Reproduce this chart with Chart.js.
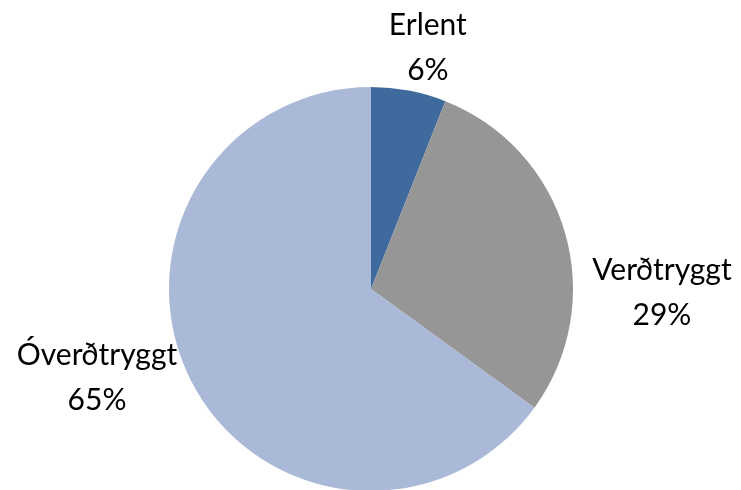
<!DOCTYPE html>
<html lang="is">
<head>
    <meta charset="UTF-8">
    <title>Skipting lána</title>
    <script src="https://cdn.jsdelivr.net/npm/chart.js"></script>
    <style>
        html, body {
            margin: 0;
            padding: 0;
            background: #FFFFFF;
            overflow: hidden;
        }
        #wrap {
            position: relative;
            width: 741px;
            height: 495px;
        }
    </style>
</head>
<body>
    <div id="wrap"><canvas id="pieChart"></canvas></div>

    <script>
        const categories = ["Erlent", "Verðtryggt", "Óverðtryggt"];
        const shares = [6, 29, 65];
        const colors = ["#3F6A9D", "#969696", "#AAB9D7"];

        // label block offset from the arc's outer edge at its mid angle
        const labelOffsets = [[19, -43], [97, 60], [-94, -3]];

        const outsideLabels = {
            id: "outsideLabels",
            afterDatasetsDraw(chart) {
                const ctx = chart.ctx;
                const meta = chart.getDatasetMeta(0);
                ctx.save();
                ctx.font = "30px Lato, 'Open Sans', sans-serif";
                ctx.fillStyle = "#000000";
                ctx.textAlign = "center";
                ctx.textBaseline = "middle";
                meta.data.forEach((arc, i) => {
                    const mid = (arc.startAngle + arc.endAngle) / 2;
                    const ex = arc.x + Math.cos(mid) * arc.outerRadius;
                    const ey = arc.y + Math.sin(mid) * arc.outerRadius;
                    const x = ex + labelOffsets[i][0];
                    const y = ey + labelOffsets[i][1];
                    ctx.fillText(categories[i], x, y - 22.5);
                    ctx.fillText(shares[i] + "%", x, y + 22.5);
                });
                ctx.restore();
            }
        };

        new Chart(document.getElementById("pieChart"), {
            type: "pie",
            data: {
                labels: categories,
                datasets: [{
                    data: shares,
                    backgroundColor: colors,
                    borderWidth: 0
                }]
            },
            options: {
                responsive: true,
                maintainAspectRatio: false,
                animation: false,
                layout: { padding: { top: 87, bottom: 4, left: 169, right: 168 } },
                plugins: {
                    legend: { display: false },
                    tooltip: { enabled: false }
                }
            },
            plugins: [outsideLabels]
        });
    </script>
</body>
</html>
